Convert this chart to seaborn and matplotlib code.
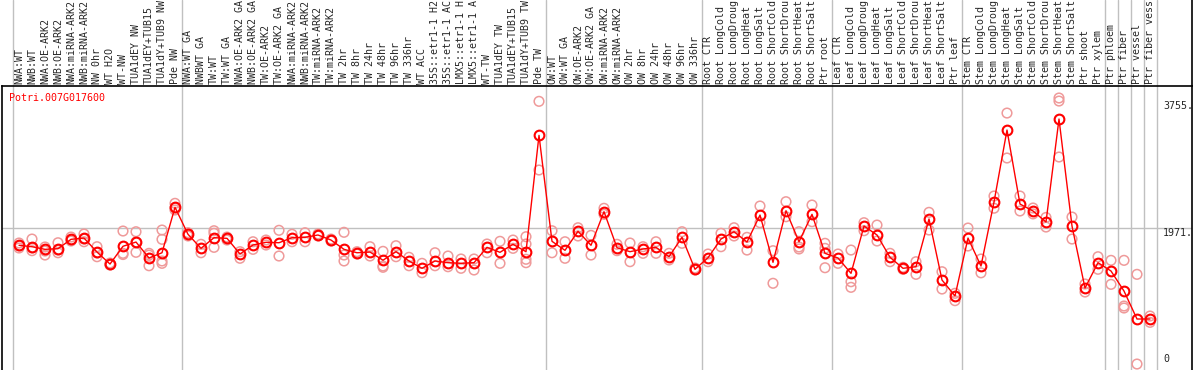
import numpy as np
import pandas as pd
import matplotlib
matplotlib.use("Agg")
import matplotlib.pyplot as plt
import seaborn as sns

gene = "Potri.007G017600"

labels = ["NWA:WT", "NWB:WT", "NWA:OE-ARK2", "NWB:OE-ARK2", "NWA:miRNA-ARK2", "NWB:miRNA-ARK2",
          "NW 0hr", "WT H2O", "WT-NW", "TUA1dEY NW", "TUA1dEY+TUB15", "TUA1dY+TUB9 NW", "Pde NW",
          "NWA:WT GA", "NWBWT GA", "TW:WT", "TW:WT GA", "NWA:OE-ARK2 GA", "NWB:OE-ARK2 GA",
          "TW:OE-ARK2", "TW:OE-ARK2 GA", "NWA:miRNA-ARK2", "NWB:miRNA-ARK2", "TW:miRNA-ARK2",
          "TW:miRNA-ARK2", "TW 2hr", "TW 8hr", "TW 24hr", "TW 48hr", "TW 96hr", "TW 336hr",
          "WT ACC", "35S::etr1-1 H2", "35S::etr1-1 AC", "LMX5::etr1-1 H", "LMX5::etr1-1 A",
          "WT-TW", "TUA1dEY TW", "TUA1dEY+TUB15", "TUA1dY+TUB9 TW", "Pde TW",
          "OW:WT", "OW:WT GA", "OW:OE-ARK2", "OW:OE-ARK2 GA", "OW:miRNA-ARK2", "OW:miRNA-ARK2",
          "OW 2hr", "OW 8hr", "OW 24hr", "OW 48hr", "OW 96hr", "OW 336hr",
          "Root CTR", "Root LongCold", "Root LongDroug", "Root LongHeat", "Root LongSalt",
          "Root ShortCold", "Root ShortDrou", "Root ShortHeat", "Root ShortSalt", "Ptr root",
          "Leaf CTR", "Leaf LongCold", "Leaf LongDroug", "Leaf LongHeat", "Leaf LongSalt",
          "Leaf ShortCold", "Leaf ShortDrou", "Leaf ShortHeat", "Leaf ShortSalt", "Ptr leaf",
          "Stem CTR", "Stem LongCold", "Stem LongDroug", "Stem LongHeat", "Stem LongSalt",
          "Stem ShortCold", "Stem ShortDrou", "Stem ShortHeat", "Stem ShortSalt", "Ptr shoot",
          "Ptr xylem", "Ptr phloem", "Ptr fiber", "Ptr vessel", "Ptr fiber vess"]

means = [1728, 1708, 1671, 1680, 1812, 1830, 1633, 1464, 1714, 1774, 1549, 1623, 2263,
         1883, 1685, 1835, 1826, 1605, 1732, 1770, 1764, 1835, 1840, 1873, 1802, 1671, 1623,
         1633, 1518, 1638, 1507, 1404, 1507, 1483, 1474, 1483, 1699, 1629, 1742, 1638, 3276,
         1784, 1657, 1925, 1728, 2201, 1694, 1638, 1676, 1699, 1567, 1840, 1390,
         1553, 1816, 1919, 1774, 2154, 1488, 2215, 1778, 2164, 1615,
         1549, 1333, 1999, 1873, 1559, 1404, 1426, 2098, 1239, 1014,
         1830, 1436, 2337, 3351, 2309, 2211, 2056, 3506, 1999, 1126,
         1483, 1366, 1084, 690, 690]

reps = [[1760, 1690, 1718], [1816, 1652, 1690], [1704, 1591, 1647], [1764, 1623, 1661],
        [1844, 1788, 1802], [1887, 1778, 1816], [1708, 1567, 1619], [1478, 1450, 1457],
        [1929, 1615, 1598], [1919, 1629, 1774], [1615, 1440, 1590], [1943, 1812, 1507, 1474],
        [2319, 2225, 2253],
        [1905, 1859], [1742, 1623], [1933, 1897, 1699], [1844, 1802], [1638, 1545],
        [1778, 1671], [1802, 1732], [1939, 1577], [1883, 1778], [1905, 1778], [1887, 1859],
        [1816, 1788], [1911, 1591, 1507], [1638, 1605], [1708, 1577], [1643, 1436, 1418],
        [1722, 1567], [1559, 1440], [1474, 1342], [1623, 1440], [1577, 1426], [1535, 1404],
        [1535, 1380], [1746, 1623], [1784, 1474], [1802, 1685], [1849, 1746, 1531, 1483],
        [3755, 2788],
        [1933, 1623], [1778, 1545], [1975, 1859], [1868, 1591], [2249, 2164], [1742, 1652],
        [1760, 1497], [1708, 1615], [1778, 1615], [1615, 1521], [1919, 1756], [1408, 1380],
        [1605, 1497], [1897, 1708], [1975, 1859], [1840, 1661], [2281, 2046], [1652, 1193],
        [2342, 2130], [1919, 1704, 1676], [2295, 2060], [1756, 1685, 1412],
        [1605, 1474], [1661, 1215, 1136], [2046, 1933], [2013, 1788], [1615, 1497],
        [1418, 1390], [1497, 1319], [2192, 1943], [1356, 1112], [1052, 948],
        [1971, 1718], [1535, 1340], [2422, 2250], [3590, 2957], [2422, 2211], [2253, 2170],
        [1985, 2120], [3802, 3759, 2971], [2126, 1816], [1183, 1070],
        [1567, 1390], [1516, 1178], [1516, 873, 845], [1319, 56], [732, 643]]

# group boundaries (index of last sample in each group)
group_ends = [12, 40, 52, 62, 72, 83, 84, 85, 86, 87]
yticks = [0, 1971, 3755]

df = pd.DataFrame({"x": np.arange(len(labels)), "value": means})
rep_df = pd.DataFrame([(i, v) for i, r in enumerate(reps) for v in r], columns=["x", "value"])

sns.set_style("white")
plt.rcParams["font.family"] = ["DejaVu Sans Mono", "DejaVu Sans"]

W, H = 1194, 370
fig = plt.figure(figsize=(W / 100, H / 100), dpi=100)
top_px = 86
ax = fig.add_axes([2 / W, 0, 1190 / W, (H - top_px) / H])
ext = H / (H - top_px)

# x scale: sample i sits at pixel 19 + 13 * i
span = 87 * 1190 / 1131
xmin = -17 * span / 1190
ax.set_xlim(xmin, xmin + span)
ax.set_ylim(-28, 3971)

for e in group_ends:
    ax.axvline(e + 0.5, ymin=0, ymax=ext, color="#c0c0c0", lw=1, clip_on=False, zorder=0)
ax.axvline(-0.5, ymin=0, ymax=ext, color="#c0c0c0", lw=1, clip_on=False, zorder=0)
ax.axhline(yticks[1], color="#c0c0c0", lw=1, zorder=0)

sns.scatterplot(data=rep_df, x="x", y="value", ax=ax, marker="o", s=48,
                facecolors="none", edgecolor="#ef9a9a", linewidth=1.1, zorder=2)
sns.lineplot(data=df, x="x", y="value", ax=ax, color="red", lw=1, zorder=3,
             marker="o", markersize=7, markerfacecolor="none",
             markeredgecolor="red", markeredgewidth=1.5)

for i, lab in enumerate(labels):
    ax.text(i, 1 + 2 / (H - top_px), lab, rotation=90, ha="center", va="bottom",
            fontsize=7.2, transform=ax.get_xaxis_transform(), clip_on=False)

ax.text(7 / 1190, 1 - 7 / (H - top_px), gene, color="red", fontsize=7.2,
        ha="left", va="top", transform=ax.transAxes)

xlab = (1163 - 2) / 1190
ax.text(xlab, yticks[2], f"{yticks[2]}.", fontsize=7.2, va="top", ha="left",
        transform=ax.get_yaxis_transform())
ax.text(xlab, yticks[1], f"{yticks[1]}.", fontsize=7.2, va="top", ha="left",
        transform=ax.get_yaxis_transform())
ax.text(xlab, yticks[0] + 60, f"{yticks[0]}", fontsize=7.2, va="bottom", ha="left",
        transform=ax.get_yaxis_transform())

ax.set_xticks([])
ax.set_yticks([])
ax.set_xlabel("")
ax.set_ylabel("")
for side in ["left", "top", "right"]:
    ax.spines[side].set_color("black")
    ax.spines[side].set_linewidth(1.2)
ax.spines["bottom"].set_visible(False)
ax.plot([1, 1], [1, ext], color="black", lw=1.2, transform=ax.transAxes, clip_on=False)

fig.savefig("out.png", dpi=100)
